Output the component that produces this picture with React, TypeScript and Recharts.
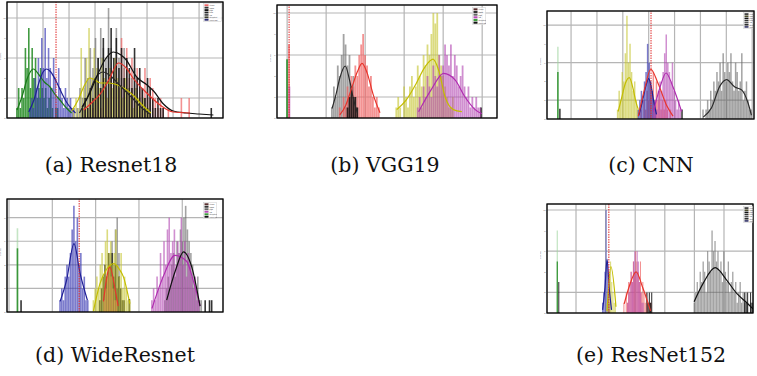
import React from 'react';
import { ComposedChart, Bar, Line, XAxis, YAxis, CartesianGrid, ReferenceLine } from 'recharts';

type Seg = [number, number, number[]];
type Pt = [number, number];

// ---------- (a) Resnet18 ----------
const aGreen: number[] = [1, 3, 1, 3, 2, 7, 5, 9, 3, 7, 4, 6, 2, 3, 5, 3, 2, 3, 1, 2, 3, 1, 0, 1, 1];
const aBlue: number[] = [1, 2, 1, 4, 3, 6, 2, 8, 5, 9, 4, 7, 5, 3, 6, 4, 2, 5, 3, 2, 1, 3, 2, 1, 2, 1, 1];
const aYellow: number[] = [1, 2, 1, 7, 3, 6, 9, 4, 7, 5, 3, 6, 4, 2, 5, 3, 6, 4, 3, 2, 4, 3, 2, 1, 3, 2, 1, 2, 1, 1];
const aGray: number[] = [1, 3, 2, 6, 4, 7, 5, 8, 6, 9, 7, 6, 11, 7, 5, 9, 6, 4, 7, 5, 3, 4, 5, 3, 2, 3, 2, 1, 2, 1];
const aBlack: number[] = [1, 2, 1, 3, 2, 4, 6, 3, 8, 5, 7, 9, 6, 8, 5, 7, 4, 6, 5, 3, 7, 4, 5, 3, 2, 4, 3, 2, 1, 2, 1, 1];
const aBlackTail: number[] = [1];
const aRed: number[] = [1, 0, 2, 1, 3, 2, 1, 4, 3, 2, 5, 4, 6, 3, 8, 5, 7, 4, 6, 3, 5, 4, 3, 5, 2, 4, 3, 2, 1, 2, 1, 0, 1, 0, 0, 0, 0, 2, 0, 0, 2];
const aKdeGreen: Pt[] = [[0.0, 0.8], [0.2, 2.2], [0.4, 4.0], [0.63, 4.9], [0.85, 4.3], [1.05, 3.6], [1.27, 3.1], [1.45, 2.4], [1.65, 1.8], [1.9, 1.0], [2.1, 0.5]];
const aKdeBlue: Pt[] = [[0.45, 0.6], [0.65, 1.8], [0.85, 3.6], [1.0, 4.6], [1.14, 4.9], [1.3, 4.6], [1.5, 3.7], [1.7, 2.6], [1.9, 1.6], [2.1, 0.9], [2.25, 0.5]];
const aKdeYellow: Pt[] = [[2.1, 0.7], [2.35, 1.8], [2.6, 3.3], [2.8, 4.0], [3.0, 3.8], [3.2, 3.5], [3.5, 3.5], [3.75, 3.4], [4.1, 3.0], [4.5, 2.2], [4.85, 1.2], [5.15, 0.5]];
const aKdeGray: Pt[] = [[2.4, 0.5], [2.7, 2.0], [3.0, 3.9], [3.3, 4.6], [3.6, 4.2], [3.9, 3.4], [4.2, 2.6], [4.5, 1.8], [4.8, 1.0], [5.1, 0.4]];
const aKdeBlack: Pt[] = [[2.5, 1.1], [2.8, 2.5], [3.06, 4.1], [3.4, 5.9], [3.7, 6.6], [4.0, 6.3], [4.2, 5.8], [4.6, 4.1], [5.0, 3.3], [5.25, 2.7], [5.63, 1.4], [6.0, 0.7], [6.5, 0.5], [7.0, 0.4], [7.55, 0.3]];
const aKdeRed: Pt[] = [[2.56, 0.8], [2.9, 1.6], [3.2, 2.4], [3.55, 3.9], [3.9, 5.5], [4.2, 5.0], [4.46, 4.0], [4.99, 2.5], [5.5, 1.3], [6.0, 0.6], [6.65, 0.5]];
const aXLabels: string[] = ['0.000', '0.002', '0.004', '0.006', '0.008', '0.010', '0.012', '0.014'];

// ---------- (b) VGG19 ----------
const bGreen: number[] = [5.6];
const bRedSpike: number[] = [7];
const bRed: number[] = [1, 0, 2, 1, 3, 2, 4, 3, 5, 4, 6, 7, 8, 6, 5, 3, 4, 2, 1, 2, 1];
const bMagentaSpike: number[] = [3];
const bMagenta: number[] = [1, 2, 1, 3, 2, 4, 3, 2, 5, 4, 3, 6, 4, 5, 7, 6, 5, 7, 4, 6, 5, 3, 4, 5, 3, 2, 3, 1, 2, 1, 2, 1, 1];
const bGray: number[] = [1, 3, 2, 5, 4, 6, 8, 7, 5, 6, 3, 4, 2, 1];
const bBlack: number[] = [1, 2, 3, 2, 2, 1];
const bBlackTail: number[] = [1];
const bYellow: number[] = [1, 2, 1, 0, 3, 2, 1, 3, 4, 2, 3, 5, 4, 3, 6, 5, 7, 6, 8, 10, 9, 10, 6, 5, 4, 3, 2, 1, 1, 2];
const bKdeGray: Pt[] = [[1.15, 0.9], [1.25, 2.2], [1.35, 3.8], [1.49, 4.95], [1.6, 3.6], [1.7, 1.8], [1.8, 0.5]];
const bKdeRed: Pt[] = [[1.35, 0.3], [1.5, 1.2], [1.65, 2.8], [1.8, 4.4], [1.92, 5.2], [2.05, 4.3], [2.2, 2.3], [2.38, 0.5]];
const bKdeYellow: Pt[] = [[2.81, 0.8], [3.05, 1.7], [3.28, 3.1], [3.54, 4.9], [3.74, 5.6], [3.88, 4.6], [4.05, 2.0], [4.26, 0.8], [4.48, 0.6]];
const bKdeMagenta: Pt[] = [[3.37, 0.6], [3.71, 2.8], [4.01, 4.25], [4.31, 3.6], [4.56, 2.0], [4.82, 0.8], [4.99, 0.4]];
const bXLabels: string[] = ['0.00', '0.05', '0.10', '0.15', '0.20', '0.25'];

// ---------- (c) CNN ----------
const cLightGreen: number[] = [7.7];
const cGreen: number[] = [5];
const cBlackHead: number[] = [1.1];
const cBlackTail: number[] = [1];
const cYellow: number[] = [1, 3, 2, 5, 4, 7, 11, 6, 8, 5, 3, 4, 2, 1];
const cBlue: number[] = [1, 2, 3, 2, 4, 5, 8, 6, 4, 3, 2, 1];
const cRed: number[] = [1, 0, 2, 1, 3, 2, 4, 3, 5, 2, 4, 2, 3, 1, 2, 1, 2, 1, 0, 1];
const cMagenta: number[] = [1, 2, 1, 3, 4, 3, 5, 7, 9, 6, 5, 4, 6, 3, 2, 1, 2, 1];
const cGray: number[] = [1, 0, 1, 2, 1, 3, 2, 4, 3, 5, 4, 6, 3, 7, 5, 4, 6, 5, 7, 4, 3, 6, 5, 3, 4, 7, 2, 3, 4, 2, 1, 1];
const cKdeYellow: Pt[] = [[1.82, 0.8], [1.95, 2.2], [2.1, 3.8], [2.25, 4.4], [2.4, 3.2], [2.5, 1.9], [2.6, 1.0]];
const cKdeBlue: Pt[] = [[2.62, 0.4], [2.75, 1.8], [2.9, 3.6], [3.0, 4.3], [3.1, 3.4], [3.2, 1.8], [3.3, 0.5]];
const cKdeRed: Pt[] = [[2.6, 0.3], [2.86, 3.4], [3.08, 5.3], [3.36, 3.8], [3.7, 1.4], [3.94, 0.3]];
const cKdeMagenta: Pt[] = [[3.18, 0.8], [3.44, 3.4], [3.67, 4.9], [3.94, 3.4], [4.27, 0.8]];
const cKdeGray: Pt[] = [[5.11, 0.2], [5.43, 1.2], [5.75, 3.5], [6.01, 4.2], [6.33, 3.4], [6.59, 3.1], [6.84, 1.7], [6.97, 0.4]];
const cXLabels: string[] = ['0.1', '0.2', '0.3', '0.4', '0.5', '0.6', '0.7', '0.8'];

// ---------- (d) WideResnet ----------
const dLightGreen: number[] = [7.1];
const dGreen: number[] = [5.4];
const dBlackHead: number[] = [1];
const dBlackMid: number[] = [1, 2, 3, 4, 3, 5, 4, 5, 3, 4, 2, 3, 2, 1, 1];
const dBlackEdge: number[] = [1.1];
const dBlackTail: number[] = [1, 0, 1, 1];
const dBlue: number[] = [1, 2, 1, 3, 4, 3, 5, 7, 9, 6, 8, 4, 5, 2, 3, 1, 1];
const dYellow: number[] = [1, 2, 3, 2, 4, 5, 3, 6, 7, 5, 6, 4, 5, 7, 4, 3, 5, 2, 3, 2, 1, 1];
const dRed: number[] = [1, 2, 3, 4, 3, 2, 1, 1];
const dGrayMid: number[] = [3, 5, 6, 4, 7, 8, 5];
const dGrayHigh: number[] = [1, 2, 3, 2, 4, 5, 3, 6, 5, 7, 6, 8, 9, 7, 6, 5, 4, 3, 2, 3, 1, 1];
const dMagenta: number[] = [1, 2, 1, 3, 2, 5, 3, 6, 4, 7, 8, 5, 6, 7, 4, 6, 5, 8, 4, 6, 3, 5, 4, 3, 2, 3, 1, 1];
const dKdeBlue: Pt[] = [[1.18, 0.9], [1.33, 2.7], [1.5, 5.8], [1.64, 3.3], [1.81, 1.0]];
const dKdeYellow: Pt[] = [[1.95, 0.1], [2.1, 2.4], [2.25, 3.6], [2.42, 4.1], [2.55, 3.6], [2.64, 3.0], [2.79, 0.7]];
const dKdeRed: Pt[] = [[2.18, 0.9], [2.33, 3.8], [2.45, 1.9], [2.52, 0.5]];
const dKdeMagenta: Pt[] = [[3.3, 0.3], [3.56, 3.0], [3.83, 4.8], [4.1, 4.3], [4.25, 2.7], [4.41, 0.5]];
const dKdeBlack: Pt[] = [[3.64, 1.0], [3.85, 3.6], [4.03, 5.1], [4.22, 3.8], [4.41, 0.5]];
const dXLabels: string[] = ['0.00', '0.02', '0.04', '0.06', '0.08'];

// ---------- (e) ResNet152 ----------
const eLightGreen: number[] = [8];
const eGreen: number[] = [5];
const eBlackHead: number[] = [3];
const eBlackMid: number[] = [2, 1, 2, 1, 2];
const eBlackTail: number[] = [2, 1, 2, 0, 2, 1];
const eBlue: number[] = [1, 2, 4, 10, 5, 2, 1];
const eYellow: number[] = [1, 2, 4, 5, 3, 2, 1, 1];
const eRed: number[] = [1, 0, 2, 1, 3, 2, 4, 3, 5, 4, 6, 5, 4, 3, 5, 2, 3, 2, 1, 2, 1, 0, 1, 1];
const eMagenta: number[] = [1, 2, 3, 4, 3, 5, 6, 4, 6, 5, 3, 2, 1, 1];
const eGray: number[] = [1, 2, 3, 2, 4, 3, 5, 4, 2, 6, 5, 4, 8, 6, 7, 5, 6, 4, 5, 3, 6, 4, 3, 5, 2, 3, 4, 2, 3, 1, 2, 3, 1, 2, 1, 2, 1, 0, 1, 1];
const eKdeBlue: Pt[] = [[0.9, 0.3], [0.98, 2.5], [1.05, 5.2], [1.12, 2.5], [1.2, 0.3]];
const eKdeYellow: Pt[] = [[1.05, 0.2], [1.18, 4.5], [1.35, 0.6]];
const eKdeRed: Pt[] = [[1.63, 0.9], [1.8, 2.6], [2.03, 4.0], [2.25, 2.5], [2.52, 0.2]];
const eKdeBlack: Pt[] = [[3.99, 1.1], [4.3, 2.9], [4.7, 4.4], [5.09, 3.2], [5.43, 1.9], [5.77, 1.0], [5.98, 0.4]];
const eXLabels: string[] = ['0.000', '0.001', '0.002', '0.003', '0.004', '0.005', '0.006'];

const yTicks10: number[] = [0, 2, 4, 6, 8, 10];
const yTicks8: number[] = [0, 2, 4, 6, 8];
const legendNames7: string[] = ['clean', 'fgsm', 'pgd', 'bim', 'cw', 'deepfool', 'universal'];
const legendNames6: string[] = ['clean', 'fgsm', 'pgd', 'cw', 'deepfool', 'universal'];

// ---------- styles ----------
const ST: Record<string, { fill: string; op: number; line: string }> = {
  green: { fill: '#218a21', op: 0.85, line: '#1a7a1a' },
  lightgreen: { fill: '#9ed49e', op: 0.6, line: '#1a7a1a' },
  blue: { fill: '#3434b0', op: 0.65, line: '#1f1f96' },
  yellow: { fill: '#c8c83a', op: 0.65, line: '#c4bd00' },
  gray: { fill: '#666666', op: 0.6, line: '#2a2a2a' },
  black: { fill: '#111111', op: 0.85, line: '#111111' },
  red: { fill: '#ee6464', op: 0.7, line: '#e8352c' },
  magenta: { fill: '#b044b0', op: 0.6, line: '#b02cb0' },
};

type Series = { key: string; style: string; segs: Seg[] };
type Kde = { key: string; style: string; pts: Pt[] };
type Panel = {
  plot: { l: number; t: number; r: number; b: number };
  xDom: [number, number];
  xTicks: number[];
  xLabels: string[];
  yDom: [number, number];
  yTicks: number[];
  vline: number;
  barSize: number;
  series: Series[];
  kdes: Kde[];
  legend: { x: number; y: number; w: number; h: number; names: string[]; colors: string[] };
  caption: string;
  capX: number;
  capY: number;
};

const panels: Panel[] = [
  {
    plot: { l: 7, t: 2, r: 223, b: 118 },
    xDom: [-0.385, 7.92],
    xTicks: [0, 1, 2, 3, 4, 5, 6, 7],
    xLabels: aXLabels,
    yDom: [0, 11.6],
    yTicks: yTicks10,
    vline: 1.5,
    barSize: 1.6,
    series: [
      { key: 'green', style: 'green', segs: [[0.0, 0.065, aGreen]] },
      { key: 'blue', style: 'blue', segs: [[0.5, 0.065, aBlue]] },
      { key: 'red', style: 'red', segs: [[2.6, 0.1, aRed]] },
      { key: 'yellow', style: 'yellow', segs: [[2.15, 0.1, aYellow]] },
      { key: 'gray', style: 'gray', segs: [[2.3, 0.1, aGray]] },
      { key: 'black', style: 'black', segs: [[2.5, 0.1, aBlack], [7.45, 0.1, aBlackTail]] },
    ],
    kdes: [
      { key: 'kGreen', style: 'green', pts: aKdeGreen },
      { key: 'kBlue', style: 'blue', pts: aKdeBlue },
      { key: 'kYellow', style: 'yellow', pts: aKdeYellow },
      { key: 'kGray', style: 'gray', pts: aKdeGray },
      { key: 'kBlack', style: 'black', pts: aKdeBlack },
      { key: 'kRed', style: 'red', pts: aKdeRed },
    ],
    legend: { x: 203, y: 3, w: 19, h: 19, names: legendNames7, colors: ['#ef6868', '#333', '#111', '#222', '#555', '#3a3a2a', '#2a2a70'] },
    caption: '(a) Resnet18',
    capX: 111,
    capY: 155,
  },
  {
    plot: { l: 277, t: 5, r: 497, b: 118 },
    xDom: [-0.26, 5.38],
    xTicks: [0, 1, 2, 3, 4, 5],
    xLabels: bXLabels,
    yDom: [0, 10.76],
    yTicks: yTicks10,
    vline: 0.05,
    barSize: 1.8,
    series: [
      { key: 'green', style: 'green', segs: [[0.0, 0.05, bGreen]] },
      { key: 'gray', style: 'gray', segs: [[1.15, 0.05, bGray]] },
      { key: 'red', style: 'red', segs: [[0.05, 0.05, bRedSpike], [1.35, 0.05, bRed]] },
      { key: 'black', style: 'black', segs: [[1.55, 0.05, bBlack], [4.97, 0.05, bBlackTail]] },
      { key: 'yellow', style: 'yellow', segs: [[2.8, 0.05, bYellow]] },
      { key: 'magenta', style: 'magenta', segs: [[0.06, 0.05, bMagentaSpike], [3.35, 0.05, bMagenta]] },
    ],
    kdes: [
      { key: 'kGray', style: 'gray', pts: bKdeGray },
      { key: 'kRed', style: 'red', pts: bKdeRed },
      { key: 'kYellow', style: 'yellow', pts: bKdeYellow },
      { key: 'kMagenta', style: 'magenta', pts: bKdeMagenta },
    ],
    legend: { x: 472, y: 7, w: 14, h: 18, names: legendNames6, colors: ['#5a3030', '#333', '#666', '#b54ab5', '#3c9c3c', '#111'] },
    caption: '(b) VGG19',
    capX: 385,
    capY: 155,
  },
  {
    plot: { l: 547, t: 11, r: 754, b: 119 },
    xDom: [-0.93, 7.07],
    xTicks: [0, 1, 2, 3, 4, 5, 6, 7],
    xLabels: cXLabels,
    yDom: [0, 11.5],
    yTicks: yTicks10,
    vline: 3.09,
    barSize: 1.5,
    series: [
      { key: 'lightgreen', style: 'lightgreen', segs: [[-0.5, 0.06, cLightGreen]] },
      { key: 'green', style: 'green', segs: [[-0.5, 0.06, cGreen]] },
      { key: 'yellow', style: 'yellow', segs: [[1.8, 0.06, cYellow]] },
      { key: 'red', style: 'red', segs: [[2.7, 0.06, cRed]] },
      { key: 'blue', style: 'blue', segs: [[2.6, 0.06, cBlue]] },
      { key: 'magenta', style: 'magenta', segs: [[3.2, 0.06, cMagenta]] },
      { key: 'gray', style: 'gray', segs: [[5.1, 0.06, cGray]] },
      { key: 'black', style: 'black', segs: [[-0.42, 0.06, cBlackHead], [4.3, 0.06, cBlackTail]] },
    ],
    kdes: [
      { key: 'kYellow', style: 'yellow', pts: cKdeYellow },
      { key: 'kBlue', style: 'blue', pts: cKdeBlue },
      { key: 'kRed', style: 'red', pts: cKdeRed },
      { key: 'kMagenta', style: 'magenta', pts: cKdeMagenta },
      { key: 'kGray', style: 'gray', pts: cKdeGray },
    ],
    legend: { x: 743, y: 12, w: 10, h: 17, names: legendNames7, colors: ['#222', '#4a4a2a', '#111', '#333', '#555', '#2a2a2a', '#2a2a60'] },
    caption: '(c) CNN',
    capX: 651,
    capY: 155,
  },
  {
    plot: { l: 7, t: 199, r: 223, b: 312 },
    xDom: [-0.046, 4.94],
    xTicks: [0, 1, 2, 3, 4],
    xLabels: dXLabels,
    yDom: [0, 9.58],
    yTicks: yTicks8,
    vline: 1.62,
    barSize: 1.6,
    series: [
      { key: 'lightgreen', style: 'lightgreen', segs: [[0.2, 0.04, dLightGreen]] },
      { key: 'green', style: 'green', segs: [[0.2, 0.04, dGreen]] },
      { key: 'blue', style: 'blue', segs: [[1.18, 0.04, dBlue]] },
      { key: 'gray', style: 'gray', segs: [[2.3, 0.04, dGrayMid], [3.6, 0.04, dGrayHigh]] },
      { key: 'black', style: 'black', segs: [[0.28, 0.04, dBlackHead], [2.1, 0.04, dBlackMid], [2.78, 0.04, dBlackEdge], [4.53, 0.05, dBlackTail]] },
      { key: 'red', style: 'red', segs: [[2.2, 0.04, dRed]] },
      { key: 'yellow', style: 'yellow', segs: [[1.95, 0.04, dYellow]] },
      { key: 'magenta', style: 'magenta', segs: [[3.3, 0.04, dMagenta]] },
    ],
    kdes: [
      { key: 'kBlue', style: 'blue', pts: dKdeBlue },
      { key: 'kYellow', style: 'yellow', pts: dKdeYellow },
      { key: 'kRed', style: 'red', pts: dKdeRed },
      { key: 'kMagenta', style: 'magenta', pts: dKdeMagenta },
      { key: 'kBlack', style: 'black', pts: dKdeBlack },
    ],
    legend: { x: 203, y: 202, w: 14, h: 17, names: legendNames6, colors: ['#5a3030', '#333', '#666', '#b54ab5', '#3c9c3c', '#111'] },
    caption: '(d) WideResnet',
    capX: 115,
    capY: 345,
  },
  {
    plot: { l: 547, t: 204, r: 753, b: 313 },
    xDom: [-0.98, 5.98],
    xTicks: [0, 1, 2, 3, 4, 5, 6],
    xLabels: eXLabels,
    yDom: [0, 10.58],
    yTicks: yTicks10,
    vline: 1.11,
    barSize: 1.3,
    series: [
      { key: 'lightgreen', style: 'lightgreen', segs: [[-0.62, 0.04, eLightGreen]] },
      { key: 'green', style: 'green', segs: [[-0.62, 0.04, eGreen]] },
      { key: 'blue', style: 'blue', segs: [[0.9, 0.04, eBlue]] },
      { key: 'yellow', style: 'yellow', segs: [[1.05, 0.04, eYellow]] },
      { key: 'red', style: 'red', segs: [[1.62, 0.04, eRed]] },
      { key: 'magenta', style: 'magenta', segs: [[1.75, 0.04, eMagenta]] },
      { key: 'gray', style: 'gray', segs: [[4.0, 0.05, eGray]] },
      { key: 'black', style: 'black', segs: [[-0.58, 0.04, eBlackHead], [2.4, 0.04, eBlackMid], [5.7, 0.05, eBlackTail]] },
    ],
    kdes: [
      { key: 'kBlue', style: 'blue', pts: eKdeBlue },
      { key: 'kYellow', style: 'yellow', pts: eKdeYellow },
      { key: 'kRed', style: 'red', pts: eKdeRed },
      { key: 'kBlack', style: 'black', pts: eKdeBlack },
    ],
    legend: { x: 743, y: 206, w: 10, h: 17, names: legendNames7, colors: ['#222', '#4a4a2a', '#111', '#333', '#555', '#2a2a2a', '#2a2a60'] },
    caption: '(e) ResNet152',
    capX: 651,
    capY: 345,
  },
];

// Each bar series gets its own x field, so its hidden axis only sees its own bins.
function buildRows(series: Series[], kdes: Kde[]) {
  const map = new Map<string, Record<string, number>>();
  const row = (x: number) => {
    const k = x.toFixed(4);
    let r = map.get(k);
    if (!r) {
      r = { x: Number(k) };
      map.set(k, r);
    }
    return r;
  };
  series.forEach((s) =>
    s.segs.forEach(([st, sp, cs]) =>
      cs.forEach((c, i) => {
        if (c > 0) {
          const r = row(st + i * sp);
          r[s.key] = c;
          r['x_' + s.key] = r.x;
        }
      })
    )
  );
  kdes.forEach((k) =>
    k.pts.forEach(([x, y]) => {
      row(x)[k.key] = y;
    })
  );
  return Array.from(map.values()).sort((a, b) => a.x - b.x);
}

const YW = 7;
const XH = 8;

function PanelChart({ p }: { p: Panel }) {
  const rows = buildRows(p.series, p.kdes);
  const pw = p.plot.r - p.plot.l;
  const ph = p.plot.b - p.plot.t;
  const width = pw + YW + 1;
  const height = ph + 1 + XH;
  const lg = p.legend;
  const step = (lg.h - 2) / lg.names.length;
  return (
    <>
      <div style={{ position: 'absolute', left: p.plot.l - YW, top: p.plot.t - 1 }}>
        <ComposedChart width={width} height={height} data={rows} margin={{ top: 1, right: 1, left: 0, bottom: 0 }}>
          <CartesianGrid xAxisId="main" stroke="#b5b5b5" strokeWidth={1.2} />
          <XAxis
            xAxisId="main"
            type="number"
            dataKey="x"
            domain={p.xDom}
            ticks={p.xTicks}
            allowDataOverflow
            interval={0}
            height={XH}
            tickSize={1}
            tickMargin={0.5}
            tickLine={false}
            axisLine={false}
            tick={{ fontSize: 2.6, fill: '#555' }}
            tickFormatter={(v: number, i: number) => p.xLabels[i] ?? String(v)}
            label={{ value: 'Mean squared error', position: 'insideBottom', offset: 1, fontSize: 2.6, fill: '#555' }}
          />
          {p.series.map((s, i) => (
            <XAxis key={'ax' + s.key} xAxisId={'h' + i} type="number" dataKey={'x_' + s.key} domain={p.xDom} allowDataOverflow hide />
          ))}
          <YAxis
            type="number"
            domain={p.yDom}
            ticks={p.yTicks}
            allowDataOverflow
            width={YW}
            tickSize={1}
            tickMargin={0.5}
            tickLine={false}
            axisLine={false}
            tick={{ fontSize: 2.6, fill: '#555' }}
            label={{ value: 'Counts', angle: -90, position: 'insideLeft', offset: 0, fontSize: 2.6, fill: '#555' }}
          />
          {p.series.map((s, i) => (
            <Bar
              key={'bar' + s.key}
              xAxisId={'h' + i}
              dataKey={s.key}
              fill={ST[s.style].fill}
              fillOpacity={ST[s.style].op}
              barSize={p.barSize}
              isAnimationActive={false}
            />
          ))}
          {p.kdes.map((k) => (
            <Line
              key={k.key}
              xAxisId="main"
              dataKey={k.key}
              type="monotone"
              stroke={ST[k.style].line}
              strokeWidth={1.2}
              dot={false}
              activeDot={false}
              connectNulls
              isAnimationActive={false}
            />
          ))}
          <ReferenceLine xAxisId="main" x={p.vline} stroke="#e02a2a" strokeWidth={1} strokeDasharray="1.5 1" />
        </ComposedChart>
      </div>
      <svg
        style={{ position: 'absolute', left: p.plot.l - 1, top: p.plot.t - 1, pointerEvents: 'none' }}
        width={pw + 2}
        height={ph + 2}
      >
        <rect x={1} y={1} width={pw} height={ph} fill="none" stroke="#000" strokeWidth={1.3} />
      </svg>
      <svg style={{ position: 'absolute', left: lg.x, top: lg.y }} width={lg.w} height={lg.h}>
        <rect x={0.5} y={0.5} width={lg.w - 1} height={lg.h - 1} fill="#fff" fillOpacity={0.85} stroke="#ccc" strokeWidth={0.5} />
        {lg.names.map((n, i) => (
          <g key={n}>
            <rect x={1.5} y={1.3 + i * step} width={4} height={Math.max(1.4, step - 0.6)} fill={lg.colors[i]} />
            <text x={6.5} y={1.3 + i * step + step * 0.75} fontSize={1.8} fill="#333" fontFamily="DejaVu Sans">
              {n}
            </text>
          </g>
        ))}
      </svg>
      <div
        style={{
          position: 'absolute',
          left: p.capX - 150,
          top: p.capY,
          width: 300,
          textAlign: 'center',
          fontFamily: '"DejaVu Serif", serif',
          fontSize: 20.5,
          lineHeight: '20px',
          color: '#111',
          whiteSpace: 'nowrap',
        }}
      >
        {p.caption}
      </div>
    </>
  );
}

export default function App() {
  return (
    <div style={{ position: 'fixed', left: 0, top: 0, width: 757, height: 376, background: '#fff', overflow: 'hidden' }}>
      {panels.map((p) => (
        <PanelChart key={p.caption} p={p} />
      ))}
    </div>
  );
}
